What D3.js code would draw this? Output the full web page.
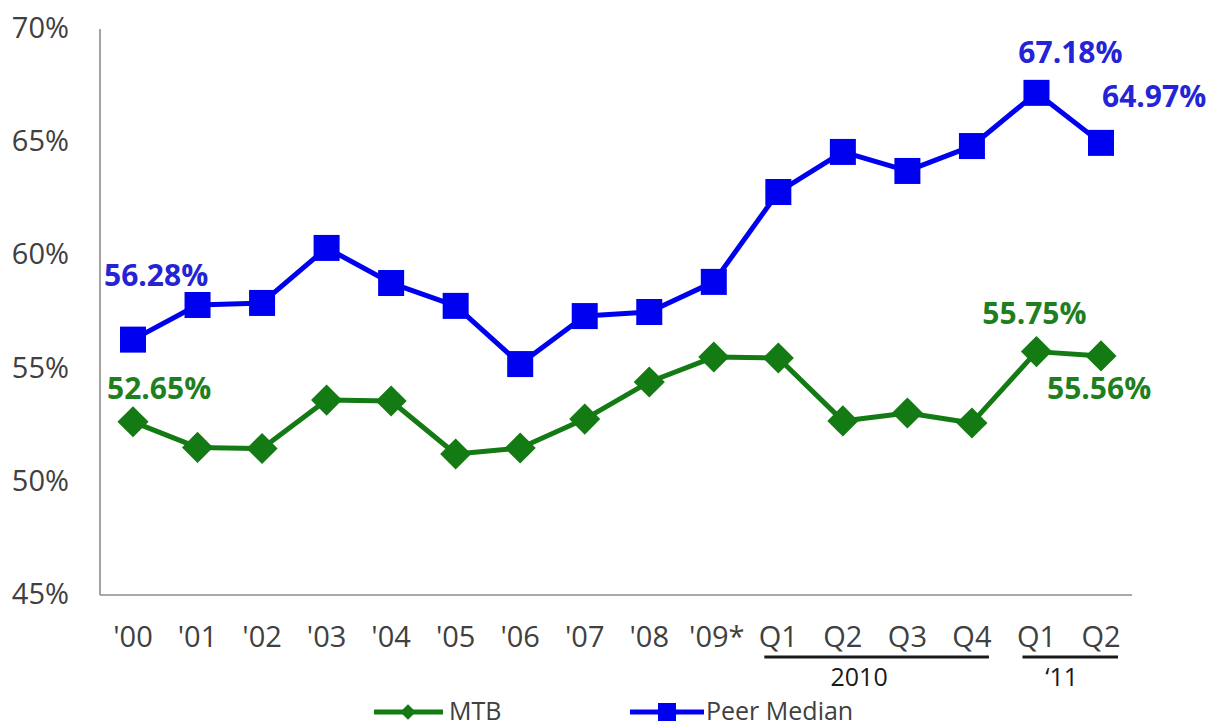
<!DOCTYPE html>
<html>
<head>
<meta charset="utf-8">
<script src="https://cdn.jsdelivr.net/npm/d3@7"></script>
<style>
  html, body { margin: 0; padding: 0; background: #ffffff; }
  svg { display: block; }
</style>
</head>
<body>
<svg id="chart" width="1215" height="726"></svg>
<script>
// Period labels along the bottom axis
const periods = ["'00", "'01", "'02", "'03", "'04", "'05", "'06", "'07", "'08", "'09*",
                 "Q1 '10", "Q2 '10", "Q3 '10", "Q4 '10", "Q1 '11", "Q2 '11"];
const periodLabels = ["'00", "'01", "'02", "'03", "'04", "'05", "'06", "'07", "'08", "'09*",
                      "Q1", "Q2", "Q3", "Q4", "Q1", "Q2"];

// Series values (percent)
const mtbValues  = [52.65, 51.52, 51.47, 53.61, 53.57, 51.23, 51.49, 52.77, 54.41, 55.51,
                    55.47, 52.69, 53.04, 52.60, 55.75, 55.56];
const peerValues = [56.28, 57.81, 57.90, 60.33, 58.78, 57.77, 55.20, 57.32, 57.50, 58.83,
                    62.80, 64.57, 63.73, 64.83, 67.18, 64.97];

// Y axis ticks
const yTicks = [45, 50, 55, 60, 65, 70];

// Year groupings beneath the quarterly labels
const groups = [
  { label: "2010", from: "Q1 '10", to: "Q4 '10" },
  { label: "\u201811", from: "Q1 '11", to: "Q2 '11" }
];

const BLUE = "#0000f0";
const BLUE_TEXT = "#2424d6";
const GREEN = "#147a14";
const GREEN_TEXT = "#1f7f1f";
const AXIS = "#8c8c8c";
const TEXT = "#404040";
const FONT = "'Open Sans', 'DejaVu Sans', sans-serif";

const svg = d3.select("#chart");

const x = d3.scalePoint().domain(periods).range([133, 1101]);
const y = d3.scaleLinear().domain([45, 70]).range([595, 29]);

// Axes lines
svg.append("line")
  .attr("x1", 100).attr("x2", 100)
  .attr("y1", y(70)).attr("y2", y(45))
  .attr("stroke", AXIS).attr("stroke-width", 1.6);
svg.append("line")
  .attr("x1", 100).attr("x2", 1132)
  .attr("y1", y(45)).attr("y2", y(45))
  .attr("stroke", AXIS).attr("stroke-width", 1.6);

// Y tick labels
svg.append("g").selectAll("text")
  .data(yTicks).join("text")
  .attr("x", 69)
  .attr("y", d => y(d) + 9)
  .attr("text-anchor", "end")
  .attr("font-family", FONT)
  .attr("font-size", 29)
  .attr("fill", TEXT)
  .text(d => d + "%");

// X tick labels
svg.append("g").selectAll("text")
  .data(periods).join("text")
  .attr("x", d => x(d) + (d === "'09*" ? 3 : 0))
  .attr("y", 647)
  .attr("text-anchor", "middle")
  .attr("font-family", FONT)
  .attr("font-size", 29)
  .attr("fill", TEXT)
  .text((d, i) => periodLabels[i]);

// Group underlines and year captions
const grp = svg.append("g");
grp.selectAll("line")
  .data(groups).join("line")
  .attr("x1", d => x(d.from) - 14)
  .attr("x2", d => x(d.to) + 17)
  .attr("y1", 657).attr("y2", 657)
  .attr("stroke", "#1a1a1a").attr("stroke-width", 3);
grp.selectAll("text")
  .data(groups).join("text")
  .attr("x", (d, i) => (x(d.from) + x(d.to)) / 2 + (i === 0 ? -16 : -7))
  .attr("y", 686)
  .attr("text-anchor", "middle")
  .attr("font-family", FONT)
  .attr("font-size", 25)
  .attr("fill", "#1a1a1a")
  .text(d => d.label);

const line = d3.line()
  .x((d, i) => x(periods[i]))
  .y(d => y(d));

// Peer Median series
svg.append("path")
  .datum(peerValues)
  .attr("d", line)
  .attr("fill", "none")
  .attr("stroke", BLUE)
  .attr("stroke-width", 5)
  .attr("stroke-linejoin", "round");
const sq = 26;
svg.append("g").selectAll("rect")
  .data(peerValues).join("rect")
  .attr("x", (d, i) => x(periods[i]) - sq / 2)
  .attr("y", d => y(d) - sq / 2)
  .attr("width", sq).attr("height", sq)
  .attr("fill", BLUE);

// MTB series
svg.append("path")
  .datum(mtbValues)
  .attr("d", line)
  .attr("fill", "none")
  .attr("stroke", GREEN)
  .attr("stroke-width", 5)
  .attr("stroke-linejoin", "round");
const diamond = d3.symbol().type(d3.symbolSquare).size(22 * 22);
svg.append("g").selectAll("path")
  .data(mtbValues).join("path")
  .attr("d", diamond)
  .attr("transform", (d, i) => `translate(${x(periods[i])},${y(d)}) rotate(45)`)
  .attr("fill", GREEN);

// Value callouts
const callouts = [
  { series: peerValues, idx: 0,  dx: -29, dy: -54, anchor: "start",  color: BLUE_TEXT },
  { series: peerValues, idx: 14, dx: 34,  dy: -30, anchor: "middle", color: BLUE_TEXT },
  { series: peerValues, idx: 15, dx: 1,   dy: -36, anchor: "start",  color: BLUE_TEXT },
  { series: mtbValues,  idx: 0,  dx: -26, dy: -23, anchor: "start",  color: GREEN_TEXT },
  { series: mtbValues,  idx: 14, dx: -2,  dy: -28, anchor: "middle", color: GREEN_TEXT },
  { series: mtbValues,  idx: 15, dx: -54, dy: 43,  anchor: "start",  color: GREEN_TEXT }
];
svg.append("g").selectAll("text")
  .data(callouts).join("text")
  .attr("x", d => x(periods[d.idx]) + d.dx)
  .attr("y", d => y(d.series[d.idx]) + d.dy)
  .attr("text-anchor", d => d.anchor)
  .attr("font-family", FONT)
  .attr("font-weight", "bold")
  .attr("font-size", 30)
  .attr("fill", d => d.color)
  .text(d => d.series[d.idx].toFixed(2) + "%");

// Legend
const legend = svg.append("g");
legend.append("line")
  .attr("x1", 374).attr("x2", 443).attr("y1", 712).attr("y2", 712)
  .attr("stroke", GREEN).attr("stroke-width", 5);
legend.append("path")
  .attr("d", d3.symbol().type(d3.symbolSquare).size(11 * 11))
  .attr("transform", "translate(408,712) rotate(45)")
  .attr("fill", GREEN);
legend.append("text")
  .attr("x", 449).attr("y", 720)
  .attr("font-family", FONT).attr("font-size", 25).attr("fill", TEXT)
  .text("MTB");

legend.append("line")
  .attr("x1", 630).attr("x2", 704).attr("y1", 712).attr("y2", 712)
  .attr("stroke", BLUE).attr("stroke-width", 5);
legend.append("rect")
  .attr("x", 667 - 9).attr("y", 712 - 9).attr("width", 18).attr("height", 18)
  .attr("fill", BLUE);
legend.append("text")
  .attr("x", 706).attr("y", 720)
  .attr("font-family", FONT).attr("font-size", 25).attr("fill", TEXT)
  .text("Peer Median");
</script>
</body>
</html>
